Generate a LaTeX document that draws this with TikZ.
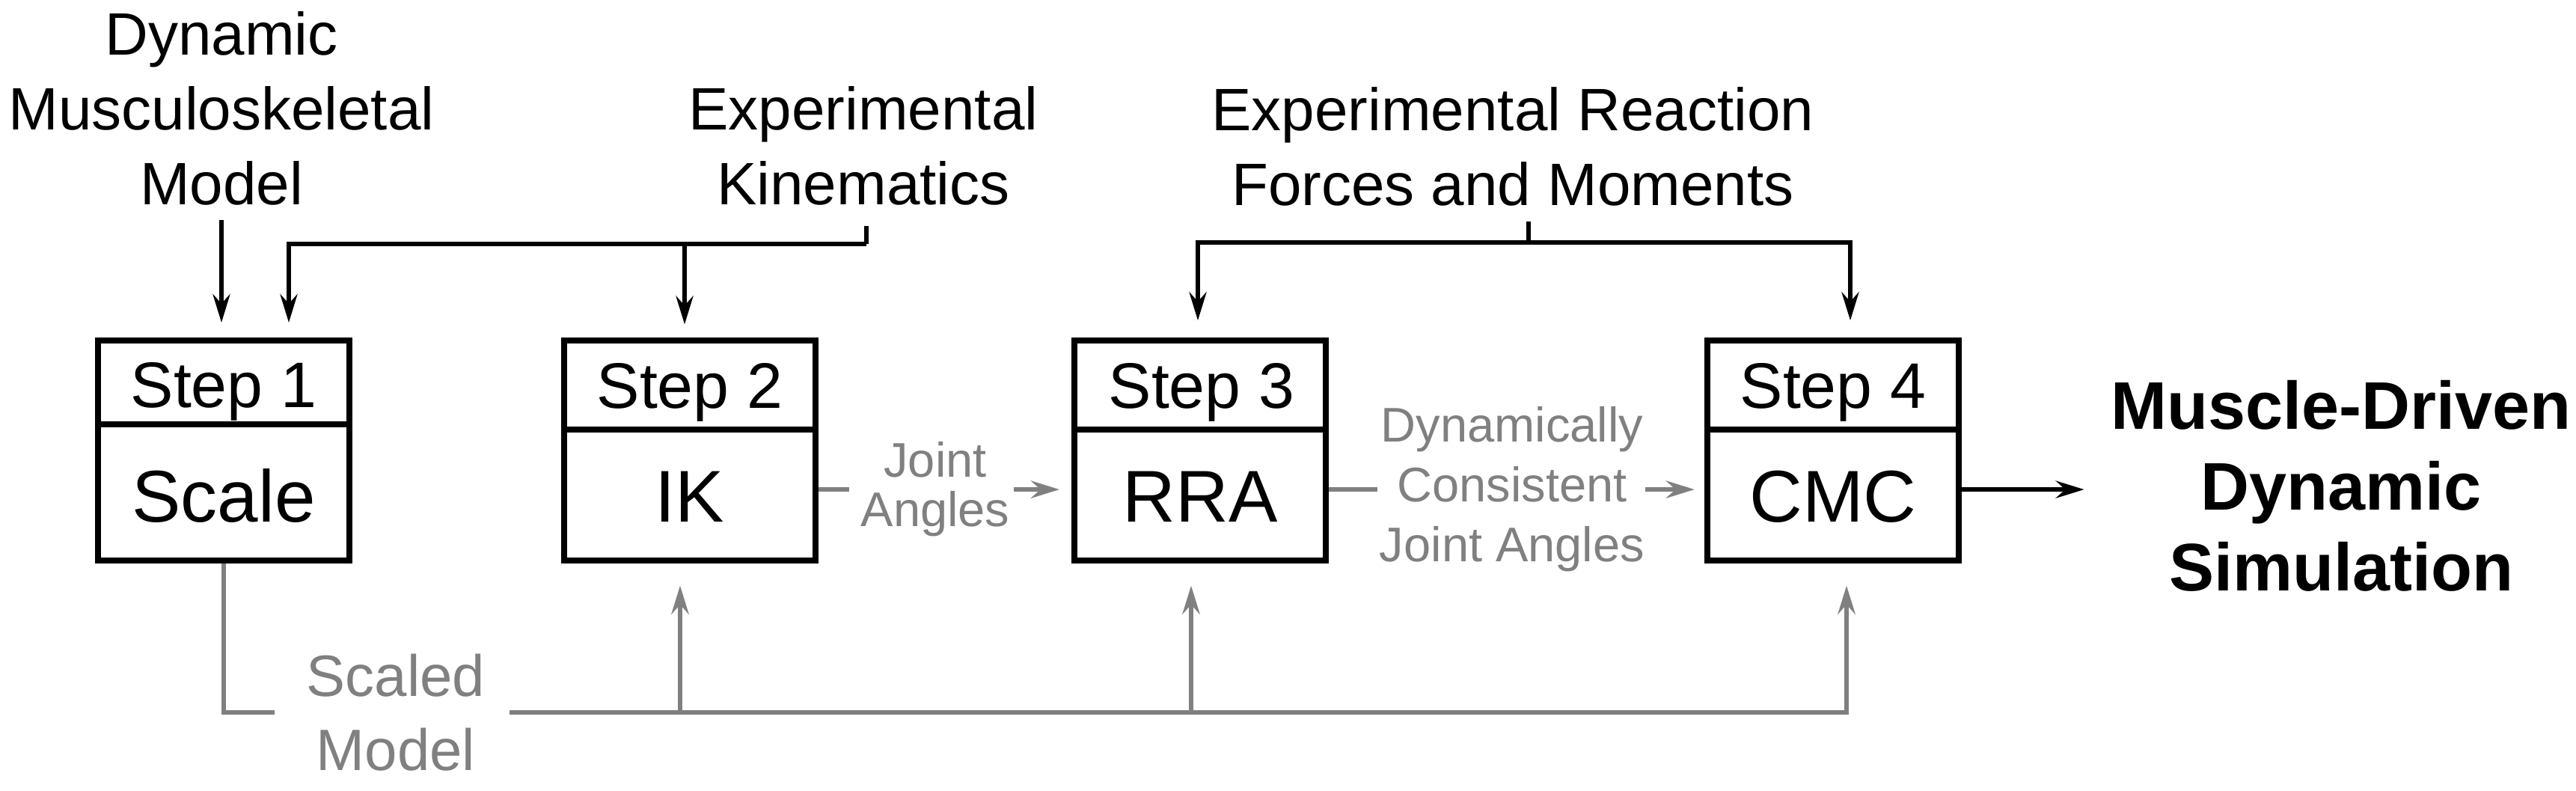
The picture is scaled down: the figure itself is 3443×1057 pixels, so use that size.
\documentclass[tikz,border=0pt]{standalone}
\usepackage{fontspec}
\setmainfont{Liberation Sans}
\usetikzlibrary{arrows.meta}
\definecolor{fgray}{RGB}{128,128,128}
\begin{document}
\begin{tikzpicture}[x=0.25pt,y=-0.25pt,
  stepbox/.style={draw, line width=1.8pt, minimum width=84pt, minimum height=73.5pt, inner sep=0pt},
  divline/.style={line width=1.8pt},
  boxtitle/.style={anchor=base, inner sep=0pt, font=\fontsize{21.5pt}{26pt}\selectfont},
  boxlabel/.style={anchor=base, inner sep=0pt, font=\fontsize{24.5pt}{30pt}\selectfont},
  toplabel/.style={anchor=north, inner sep=0pt, align=center, font=\fontsize{20pt}{25pt}\selectfont},
  glabel/.style={anchor=north, inner sep=0pt, align=center, text=fgray},
  bline/.style={line width=1.3pt, draw=black},
  barr/.style={bline, -{Stealth[length=9.5pt,width=5.8pt,inset=3.2pt]}},
  gline/.style={line width=1.65pt, draw=fgray},
  garr/.style={gline, -{Stealth[length=9.5pt,width=5.8pt,inset=3.2pt]}},
]
\useasboundingbox (0,0) rectangle (3443,1057);

% boxes
\node[stepbox] (s1) at (299,602) {};
\node[stepbox] (s2) at (922,602) {};
\node[stepbox] (s3) at (1604,602) {};
\node[stepbox] (s4) at (2450,602) {};
\draw[divline] (s1.west |- 0,567) -- (s1.east |- 0,567);
\draw[divline] (s2.west |- 0,574) -- (s2.east |- 0,574);
\draw[divline] (s3.west |- 0,574) -- (s3.east |- 0,574);
\draw[divline] (s4.west |- 0,574) -- (s4.east |- 0,574);
\node[boxtitle] (s1t) at (299,545) {Step 1};
\node[boxtitle] (s2t) at (922,546) {Step 2};
\node[boxtitle] (s3t) at (1606,546) {Step 3};
\node[boxtitle] (s4t) at (2450,546) {Step 4};
\node[boxlabel] (s1l) at (299,698) {Scale};
\node[boxlabel] (s2l) at (922,698) {IK};
\node[boxlabel] (s3l) at (1604,698) {RRA};
\node[boxlabel] (s4l) at (2450,698) {CMC};

% labels
\node[toplabel] (dmm) at (296,15) {Dynamic\\Musculoskeletal\\Model};
\node[toplabel] (ek) at (1154,115) {Experimental\\Kinematics};
\node[toplabel] (erfm) at (2022,116) {Experimental Reaction\\Forces and Moments};
\node[anchor=north, inner sep=0pt, align=center, font=\fontsize{22.5pt}{27pt}\selectfont\bfseries] (mdds) at (3129,507) {Muscle-Driven\\Dynamic\\Simulation};
\node[glabel, font=\fontsize{19.5pt}{24.8pt}\selectfont] (sm) at (529,873) {Scaled\\Model};
\node[glabel, font=\fontsize{16.25pt}{16.5pt}\selectfont] (ja) at (1250,590) {Joint\\Angles};
\node[glabel, font=\fontsize{16.25pt}{20pt}\selectfont] (dcja) at (2021,543) {Dynamically\\Consistent\\Joint Angles};

% junction columns
\coordinate (ekbar) at (1158,326);
\coordinate (k1) at (386,326);
\coordinate (k2) at (915,326);
\coordinate (erbar) at (2043,324);
\coordinate (k3) at (1601,324);
\coordinate (k4) at (2473,324);
\coordinate (j2) at (909,951);
\coordinate (j3) at (1592,951);
\coordinate (j4) at (2468,951);

% black inputs
\draw[barr, shorten <=4.75pt, shorten >=5.1pt] (dmm.south) -- (dmm.south |- s1.north);
\draw[bline, shorten <=6.75pt] (ekbar |- ek.south) -- (ekbar);
\draw[barr, shorten >=5.1pt] (ekbar) -| (k1 |- s1.north);
\draw[barr, shorten >=4.5pt] (k2) -- (k2 |- s2.north);
\draw[bline, shorten <=5pt] (erbar |- erfm.south) -- (erbar);
\draw[barr, shorten >=5.8pt] (erbar) -| (k3 |- s3.north);
\draw[barr, shorten >=5.8pt] (erbar) -| (k4 |- s4.north);

% gray middle connectors
\draw[gline, shorten >=3.75pt] (s2.east |- ja.west) -- (ja.west);
\draw[garr, shorten <=1.25pt, shorten >=4.1pt] (ja.east) -- (ja.east -| s3.west);
\draw[gline, shorten >=0.5pt] (s3.east |- dcja.west) -- (dcja.west);
\draw[garr, shorten <=0pt, shorten >=3.4pt] (dcja.east) -- (dcja.east -| s4.west);

% output
\draw[barr, shorten >=8.75pt] (s4.east |- dcja.east) -- (mdds.west |- dcja.east);

% scaled model bus
\draw[gline, shorten >=10.5pt] (s1.south) |- (sm.west);
\draw[garr, shorten <=8pt, shorten >=7.5pt] (sm.east) -| (j4 |- s4.south);
\draw[garr, shorten >=7.5pt] (sm.east -| j2) -- (j2 |- s2.south);
\draw[garr, shorten >=7.5pt] (sm.east -| j3) -- (j3 |- s3.south);
\end{tikzpicture}
\end{document}
